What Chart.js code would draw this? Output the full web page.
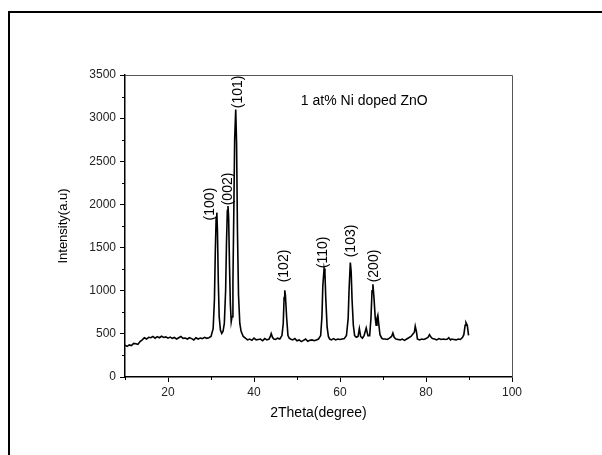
<!DOCTYPE html>
<html lang="en">
<head>
    <meta charset="UTF-8">
    <title>XRD - 1 at% Ni doped ZnO</title>
    <script src="https://cdn.jsdelivr.net/npm/chart.js"></script>
    <style>
        html, body { margin: 0; padding: 0; background: #fff; overflow: hidden; }
        #wrap { position: relative; width: 602px; height: 455px; }
        #frame {
            position: absolute; left: 8px; top: 11px;
            width: 620px; height: 480px;
            border: 2px solid #000; pointer-events: none;
        }
    </style>
</head>
<body>
<div id="wrap">
    <canvas id="myChart" width="602" height="455"></canvas>
    <div id="frame"></div>
</div>

<script>
// diffraction pattern
const twoTheta = [
    10.0, 10.5, 11.0, 11.5, 12.0, 12.5, 13.0, 13.5, 14.0, 14.5,
    15.0, 15.5, 16.0, 16.5, 17.0, 17.5, 18.0, 18.5, 19.0, 19.5,
    20.0, 20.5, 21.0, 21.5, 22.0, 22.5, 23.0, 23.5, 24.0, 24.5,
    25.0, 25.5, 26.0, 26.5, 27.0, 27.5, 28.0, 28.5, 29.0, 29.5,
    30.0, 30.5, 30.8, 31.0, 31.2, 31.35, 31.5, 31.7, 31.9, 32.2,
    32.5, 32.8, 33.1, 33.4, 33.6, 33.8, 33.95, 34.1, 34.3, 34.5,
    34.7, 34.9, 35.1, 35.3, 35.5, 35.75, 35.95, 36.15, 36.4, 36.7,
    37.0, 37.5, 38.0, 38.5, 39.0, 39.5, 40.0, 40.5, 41.0, 41.5,
    42.0, 42.5, 43.0, 43.5, 43.8, 44.0, 44.3, 44.6, 45.0, 45.5,
    46.0, 46.5, 46.8, 47.0, 47.15, 47.3, 47.6, 47.9, 48.2, 48.5,
    49.0, 49.5, 50.0, 50.5, 51.0, 51.5, 52.0, 52.5, 53.0, 53.5,
    54.0, 54.5, 55.0, 55.5, 55.8, 56.0, 56.3, 56.5, 56.7, 57.0,
    57.3, 57.6, 58.0, 58.5, 59.0, 59.5, 60.0, 60.5, 61.0, 61.5,
    61.9, 62.1, 62.4, 62.6, 62.8, 63.1, 63.4, 63.8, 64.2, 64.5,
    64.8, 65.2, 65.6, 66.1, 66.5, 66.9, 67.2, 67.45, 67.65, 67.9,
    68.2, 68.4, 68.6, 68.8, 69.0, 69.3, 69.7, 70.0, 70.5, 71.0,
    71.5, 72.0, 72.3, 72.6, 73.0, 73.5, 74.0, 74.5, 75.0, 75.5,
    76.0, 76.5, 77.0, 77.3, 77.5, 77.8, 78.0, 78.5, 79.0, 79.5,
    80.0, 80.5, 80.8, 81.2, 81.5, 82.0, 82.5, 83.0, 83.5, 84.0,
    84.5, 85.0, 85.3, 85.7, 86.0, 86.5, 87.0, 87.5, 88.0, 88.5,
    88.8, 89.1, 89.3, 89.6, 89.9
];
const intensity = [
    370, 355, 372, 365, 390, 385, 378, 410, 430, 455,
    440, 460, 455, 470, 450, 468, 455, 472, 458, 465,
    450, 462, 448, 458, 440, 455, 470, 448, 452, 440,
    455, 445, 430, 455, 440, 452, 445, 460, 448, 455,
    470, 560, 900, 1450, 1850, 1905, 1700, 1100, 700, 540,
    505, 530, 620, 1000, 1550, 1930, 1982, 1850, 1300, 850,
    640, 700, 1100, 1900, 2750, 3099, 2700, 1700, 950, 620,
    530, 470, 450, 430, 440, 425, 450, 430, 435, 440,
    420, 445, 430, 440, 470, 503, 460, 440, 435, 450,
    440, 480, 620, 920, 1005, 950, 680, 480, 450, 440,
    430, 445, 420, 430, 410, 425, 440, 415, 425, 430,
    420, 430, 440, 480, 700, 1050, 1257, 1200, 900, 580,
    470, 440, 430, 445, 430, 440, 435, 440, 445, 480,
    680, 1000, 1326, 1220, 900, 600, 480, 460, 470, 561,
    470, 450, 480, 568, 480, 480, 680, 1000, 1075, 920,
    680, 600, 680, 715, 620, 490, 450, 440, 440, 435,
    450, 470, 510, 460, 440, 435, 430, 440, 425, 440,
    455, 470, 500, 520, 588, 520, 440, 430, 440, 435,
    445, 460, 491, 460, 445, 440, 430, 445, 435, 440,
    435, 440, 456, 430, 440, 435, 430, 440, 435, 460,
    490, 600, 630, 600, 483
];

// peak labels (Miller indices) and where their lower end sits
const peakNames = ['(100)', '(002)', '(101)', '(102)', '(110)', '(103)', '(200)'];
const peakLabelX = [29.8, 33.9, 36.2, 47.05, 56.1, 62.5, 67.9];
const peakLabelY = [1815, 1990, 3115, 1097, 1260, 1387, 1097];

const xMajor = [20, 40, 60, 80, 100];
const xMinor = [10, 30, 50, 70, 90];
const yMajor = [0, 500, 1000, 1500, 2000, 2500, 3000, 3500];
const yMinor = [250, 750, 1250, 1750, 2250, 2750, 3250];

const sampleText = '1 at% Ni doped ZnO';
const FONT = "'Liberation Sans', Arial, sans-serif";

const points = twoTheta.map((t, i) => ({x: t, y: intensity[i]}));

// box, minor ticks and text annotations
const decorations = {
    id: 'decorations',
    afterDraw(chart) {
        const {ctx, chartArea: a, scales: {x, y}} = chart;
        ctx.save();
        // top / right frame of the plot box
        ctx.strokeStyle = '#555';
        ctx.lineWidth = 1;
        ctx.beginPath();
        ctx.moveTo(a.left, a.top + 0.5);
        ctx.lineTo(a.right + 0.5, a.top + 0.5);
        ctx.lineTo(a.right + 0.5, a.bottom);
        ctx.stroke();

        // minor ticks
        ctx.strokeStyle = '#000';
        ctx.beginPath();
        xMinor.forEach(v => {
            const px = Math.round(x.getPixelForValue(v)) + 0.5;
            ctx.moveTo(px, a.bottom);
            ctx.lineTo(px, a.bottom + 3);
        });
        yMinor.forEach(v => {
            const py = Math.round(y.getPixelForValue(v)) + 0.5;
            ctx.moveTo(a.left, py);
            ctx.lineTo(a.left - 3, py);
        });
        ctx.stroke();

        // peak labels, rotated
        ctx.fillStyle = '#000';
        ctx.font = '14px ' + FONT;
        ctx.textAlign = 'left';
        ctx.textBaseline = 'middle';
        peakNames.forEach((name, i) => {
            const px = x.getPixelForValue(peakLabelX[i]);
            const py = y.getPixelForValue(peakLabelY[i]);
            ctx.save();
            ctx.translate(px, py);
            ctx.rotate(-Math.PI / 2);
            ctx.fillText(name, 0, 0);
            ctx.restore();
        });

        // sample name
        ctx.font = '14px ' + FONT;
        ctx.textBaseline = 'middle';
        ctx.fillText(sampleText, x.getPixelForValue(50.9), y.getPixelForValue(3195));
        ctx.restore();
    }
};

const config = {
    type: 'line',
    data: {
        datasets: [{
            data: points,
            borderColor: '#000',
            borderWidth: 1.6,
            pointRadius: 0,
            tension: 0,
            fill: false
        }]
    },
    options: {
        responsive: false,
        animation: false,
        layout: {padding: {top: 75, right: 90, left: 0, bottom: 0}},
        plugins: {legend: {display: false}, tooltip: {enabled: false}},
        scales: {
            x: {
                type: 'linear',
                min: 10,
                max: 100,
                afterBuildTicks: s => { s.ticks = xMajor.map(v => ({value: v})); },
                afterFit: s => { s.height = 78; },
                grid: {drawOnChartArea: false, tickLength: 5, color: '#000'},
                border: {color: '#000', width: 1.5},
                ticks: {
                    color: '#222', padding: 3, maxRotation: 0,
                    font: {family: FONT, size: 12},
                    callback: v => String(v)
                },
                title: {
                    display: true, text: '2Theta(degree)', color: '#000',
                    font: {family: FONT, size: 14},
                    padding: {top: 0, bottom: 33}
                }
            },
            y: {
                type: 'linear',
                min: 0,
                max: 3500,
                afterBuildTicks: s => { s.ticks = yMajor.map(v => ({value: v})); },
                afterFit: s => { s.width = 125; },
                grid: {drawOnChartArea: false, tickLength: 5, color: '#000'},
                border: {color: '#000', width: 1.5},
                ticks: {
                    color: '#222', padding: 4,
                    font: {family: FONT, size: 12},
                    callback: v => String(v)
                },
                title: {
                    display: true, text: 'Intensity(a.u)', color: '#000',
                    font: {family: FONT, size: 13},
                    padding: {top: 56, bottom: 0}
                }
            }
        }
    },
    plugins: [decorations]
};

const myChart = new Chart(document.getElementById('myChart'), config);
</script>
</body>
</html>
